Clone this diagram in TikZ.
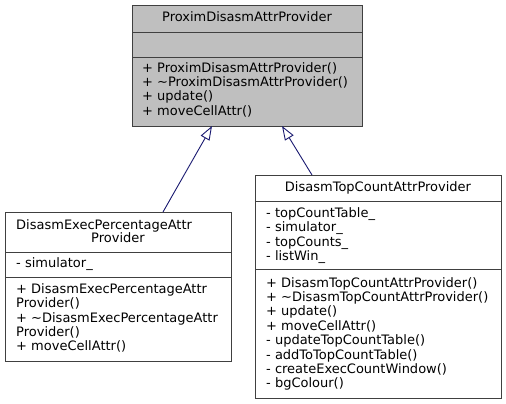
\documentclass[tikz,border=0pt]{standalone}
\usepackage{fontspec}
\setmainfont{DejaVu Sans}
\usetikzlibrary{arrows.meta}
\definecolor{boxline}{HTML}{404040}
\definecolor{boxfill}{HTML}{BFBFBF}
\definecolor{edgeblue}{HTML}{191970}
\begin{document}
\begin{tikzpicture}[x=1pt,y=-1pt,
  txt/.style={anchor=base west, inner sep=0pt, font=\fontsize{13}{15}\selectfont},
  ttl/.style={anchor=base, inner sep=0pt, font=\fontsize{13}{15}\selectfont},
  sect/.style={draw=boxline, line width=1.1pt, anchor=north west, inner sep=0pt, fill=white},
  gen/.style={draw=edgeblue, line width=0.9pt, -{Triangle[open, length=14pt, width=10pt]}}
]
\useasboundingbox (0,0) rectangle (506,404);
% ---- base class
\node[sect, fill=boxfill, minimum width=230pt, minimum height=27pt] (pA) at (132,5) {};
\node[sect, fill=boxfill, minimum width=230pt, minimum height=25pt] (pB) at (132,32) {};
\node[sect, fill=boxfill, minimum width=230pt, minimum height=69pt] (pC) at (132,57) {};
\node[ttl] (pT) at (247,22) {ProximDisasmAttrProvider};
\foreach \t [count=\i] in {+ ProximDisasmAttrProvider(), + \textasciitilde ProximDisasmAttrProvider(), + update(), + moveCellAttr()}
  \node[txt] (pm\i) at (142,{72.5+14.2*(\i-1)}) {\t};
% ---- left derived class
\node[sect, minimum width=226pt, minimum height=40pt] (lA) at (5,212) {};
\node[sect, minimum width=226pt, minimum height=25pt] (lB) at (5,252) {};
\node[sect, minimum width=226pt, minimum height=84pt] (lC) at (5,277) {};
\node[txt] (lT1) at (16,229) {DisasmExecPercentageAttr};
\node[ttl] (lT2) at (118,242.5) {Provider};
\node[txt] (la1) at (16,267.5) {- simulator\_};
\foreach \t [count=\i] in {+ DisasmExecPercentageAttr, Provider(), + \textasciitilde DisasmExecPercentageAttr, Provider(), + moveCellAttr()}
  \node[txt] (lm\i) at (16,{293.5+14.3*(\i-1)}) {\t};
% ---- right derived class
\node[sect, minimum width=246pt, minimum height=26pt] (rA) at (255,175) {};
\node[sect, minimum width=246pt, minimum height=68pt] (rB) at (255,201) {};
\node[sect, minimum width=246pt, minimum height=129pt] (rC) at (255,269) {};
\node[ttl] (rT) at (378,191.5) {DisasmTopCountAttrProvider};
\foreach \t [count=\i] in {- topCountTable\_, - simulator\_, - topCounts\_, - listWin\_}
  \node[txt] (ra\i) at (266,{217.5+14.4*(\i-1)}) {\t};
\foreach \t [count=\i] in {+ DisasmTopCountAttrProvider(), + \textasciitilde DisasmTopCountAttrProvider(), + update(), + moveCellAttr(), - updateTopCountTable(), - addToTopCountTable(), - createExecCountWindow(), - bgColour()}
  \node[txt] (rm\i) at (266,{287+14.4*(\i-1)}) {\t};
% ---- generalisation edges
\coordinate (lTip) at (212,126);
\coordinate (rTip) at (282,126);
\draw[gen] (163,212) coordinate (lTop) -- (lTip);
\draw[gen] (312,175) coordinate (rTop) -- (rTip);
\end{tikzpicture}
\end{document}
